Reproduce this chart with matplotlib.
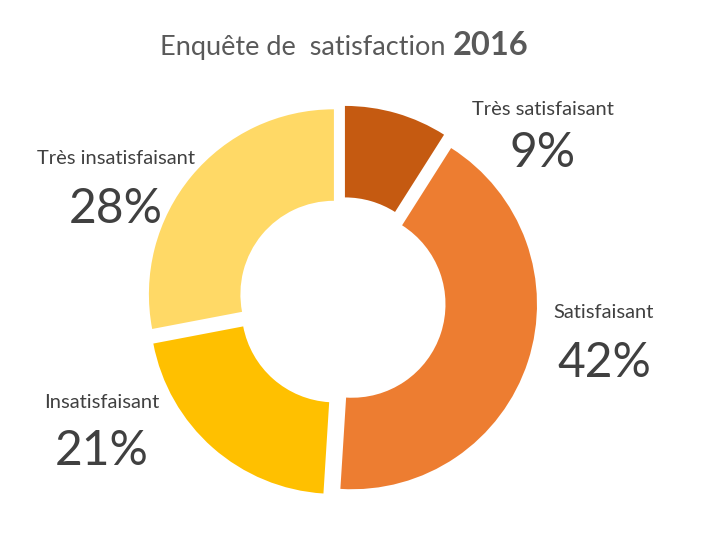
import matplotlib
matplotlib.use("Agg")
import matplotlib.pyplot as plt

categories = ["Très satisfaisant", "Satisfaisant", "Insatisfaisant", "Très insatisfaisant"]
values = [9, 42, 21, 28]
pct_labels = ["9%", "42%", "21%", "28%"]
colors = ["#C55A11", "#ED7D31", "#FFC000", "#FFD966"]
title_main = "Enquête de  satisfaction "
title_year = "2016"

W, H = 712, 547
fig = plt.figure(figsize=(W / 100, H / 100), dpi=100)
ax = fig.add_axes([0, 0, 1, 1])

plt.rcParams["font.family"] = ["Lato", "DejaVu Sans"]

R = 185
r = 93.5
cx, cy = 342, H - 301
ax.pie(values, colors=colors, startangle=90, counterclock=False,
       radius=R, center=(cx, cy), explode=[10.5] * 4,
       wedgeprops=dict(width=R - r, linewidth=0), frame=True)
ax.set_xlim(0, W)
ax.set_ylim(0, H)
ax.set_aspect("auto")
ax.axis("off")

lab_col = "#404040"
# (center x, name baseline, pct baseline) in image pixel coords
pos = [(543, 115, 167), (604, 318, 377), (102, 408, 465), (116, 164, 223)]
for name, pct, (x, yb1, yb2) in zip(categories, pct_labels, pos):
    ax.text(x, H - yb1, name, ha="center", va="baseline", fontsize=14.5, color=lab_col)
    ax.text(x, H - yb2, pct, ha="center", va="baseline", fontsize=34.5, color=lab_col)

t1 = ax.text(160, H - 55, title_main, ha="left", va="baseline", fontsize=19.5, color="#595959")
fig.canvas.draw()
bb = t1.get_window_extent()
x_end = ax.transData.inverted().transform((bb.x1, bb.y0))[0]
ax.text(x_end, H - 55, title_year, ha="left", va="baseline", fontsize=23.5,
        fontweight="bold", color="#595959")

fig.savefig("out.png", dpi=100)
